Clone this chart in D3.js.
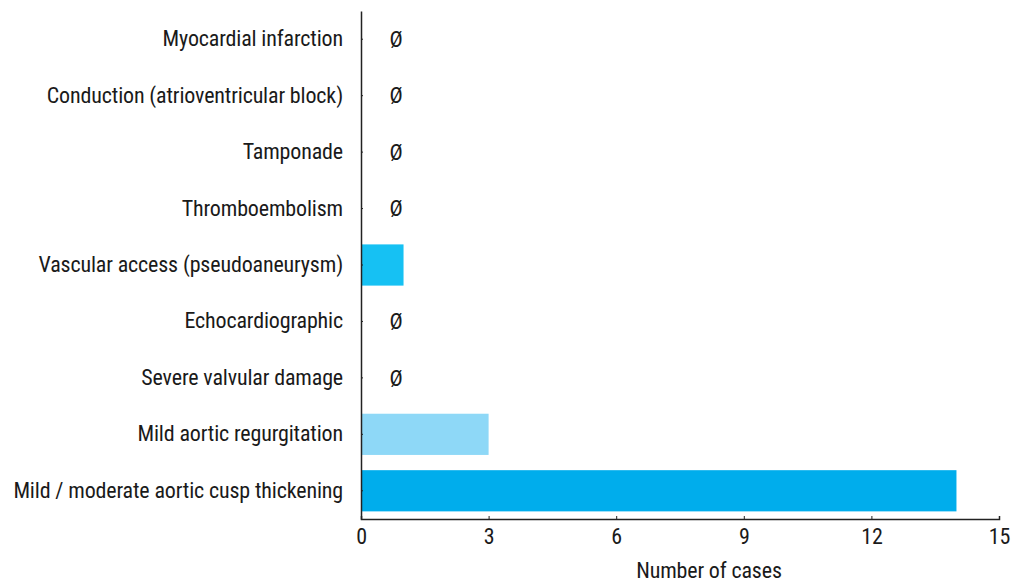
<!DOCTYPE html>
<html>
<head>
<meta charset="utf-8">
<script src="https://cdn.jsdelivr.net/npm/d3@7"></script>
<style>
  body { margin: 0; background: #fff; }
  text { font-family: "Liberation Sans Narrow", "Roboto Condensed", Roboto, sans-serif; fill: #1a1a1a; letter-spacing: -0.15px; }
</style>
</head>
<body>
<svg id="chart" width="1028" height="584"></svg>
<script>
// categories top to bottom
var categories = [
  "Myocardial infarction",
  "Conduction (atrioventricular block)",
  "Tamponade",
  "Thromboembolism",
  "Vascular access (pseudoaneurysm)",
  "Echocardiographic",
  "Severe valvular damage",
  "Mild aortic regurgitation",
  "Mild / moderate aortic cusp thickening"
];
var cases = [0, 0, 0, 0, 1, 0, 0, 3, 14];
var barColors = ["#00adef", "#00adef", "#00adef", "#00adef", "#16c1f3", "#00adef", "#00adef", "#8ed8f7", "#00adec"];
var xTicks = [0, 3, 6, 9, 12, 15];

var svg = d3.select("#chart");
var margin = {left: 361, right: 29, top: 11, bottom: 65};
var width = 1028 - margin.left - margin.right,
    height = 584 - margin.top - margin.bottom;

var x = d3.scaleLinear().domain([0, 15]).range([0, width]);
var y = d3.scaleBand().domain(categories).range([0, height])
  .paddingInner(0.27).paddingOuter(0.135);

var g = svg.append("g")
  .attr("transform", "translate(" + margin.left + "," + margin.top + ")");

// bars
g.selectAll("rect")
  .data(categories)
  .enter().append("rect")
    .attr("x", x(0))
    .attr("y", function(d) {return y(d);})
    .attr("width", function(d, i) {return x(cases[i]) - x(0);})
    .attr("height", y.bandwidth())
    .attr("fill", function(d, i) {return barColors[i];});

// zero markers
g.selectAll(".zero")
  .data(categories.filter(function(d, i) {return cases[i] === 0;}))
  .enter().append("text")
    .attr("class", "zero")
    .attr("x", x(0) + 35)
    .attr("y", function(d) {return y(d) + y.bandwidth() / 2;})
    .attr("dy", "0.35em")
    .attr("text-anchor", "middle")
    .style("font-size", "22px")
    .text("\u00d8");

// y axis
var yAxis = g.append("g")
  .call(d3.axisLeft(y).tickSize(-2).tickPadding(18).tickSizeOuter(0));
yAxis.select(".domain").attr("stroke", "#222").attr("stroke-width", 1.5);
yAxis.selectAll(".tick line").attr("stroke", "#222");
yAxis.selectAll("text").style("font-size", "22px").attr("fill", "#1a1a1a");

// x axis
var xAxis = g.append("g")
  .attr("transform", "translate(0," + height + ")")
  .call(d3.axisBottom(x).tickValues(xTicks).tickSize(-3).tickPadding(9).tickSizeOuter(-3));
xAxis.select(".domain").attr("stroke", "#222").attr("stroke-width", 1.5);
xAxis.selectAll(".tick line").attr("stroke", "#222");
xAxis.selectAll("text").style("font-size", "22px").attr("fill", "#1a1a1a");

svg.append("text")
  .attr("x", 709)
  .attr("y", 578)
  .attr("text-anchor", "middle")
  .style("font-size", "22px")
  .text("Number of cases");
</script>
</body>
</html>
